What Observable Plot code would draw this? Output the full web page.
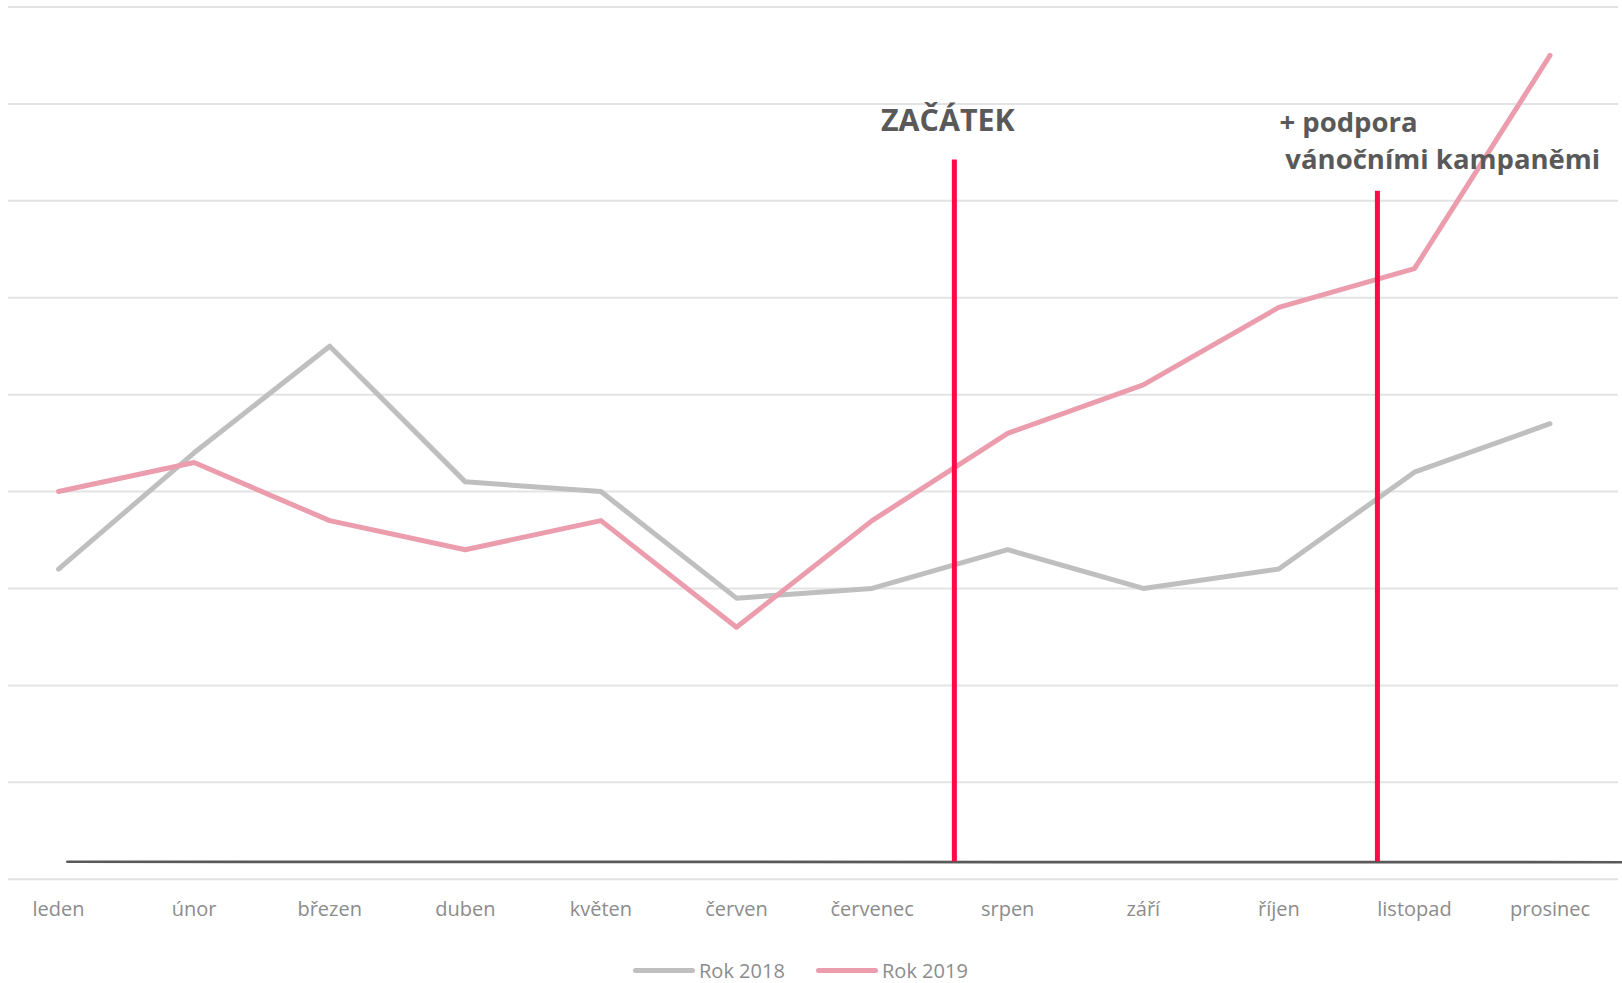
<!DOCTYPE html>
<html>
<head>
<meta charset="utf-8">
<script src="https://cdn.jsdelivr.net/npm/d3@7"></script>
<script src="https://cdn.jsdelivr.net/npm/@observablehq/plot@0.6"></script>
<style>
  html, body { margin: 0; padding: 0; background: #fff; }
  #chart svg { display: block; }
  .legend { position: relative; height: 48px; font-family: "Open Sans", sans-serif; font-size: 20px; color: #8c8c8c; }
  .legend .item { position: absolute; top: 22px; display: flex; align-items: center; }
  .legend .sw { width: 62px; height: 5px; border-radius: 3px; margin-right: 4px; }
</style>
</head>
<body>
<div id="chart"></div>
<div class="legend" id="legend"></div>
<script>
const months = ["leden", "únor", "březen", "duben", "květen", "červen", "červenec", "srpen", "září", "říjen", "listopad", "prosinec"];
const rok2018 = [3.2, 4.4, 5.5, 4.1, 4.0, 2.9, 3.0, 3.4, 3.0, 3.2, 4.2, 4.7];
const rok2019 = [4.0, 4.3, 3.7, 3.4, 3.7, 2.6, 3.7, 4.6, 5.1, 5.9, 6.3, 8.5];
const seriesNames = ["Rok 2018", "Rok 2019"];
const seriesColors = ["#bfbfbf", "#eb9dae"];
const markerX = [6.607, 9.727];
const markerTop = [7.42, 7.1];
const markerBottom = 0.18;
const baseLineX = [0.065, 11.54];
const baseLineY = [0.18, 0.175];
const notes = [
  {x: 6.066, y: 7.82, text: "ZAČÁTEK", size: 30.4},
  {x: 9.004, y: 7.80, text: "+ podpora", size: 27.5},
  {x: 9.048, y: 7.417, text: "vánočními kampaněmi", size: 27.5}
];
const gridTicks = d3.range(0, 10);

const data = [];
months.forEach((m, i) => {
  data.push({i, month: m, value: rok2018[i], series: seriesNames[0]});
});
months.forEach((m, i) => {
  data.push({i, month: m, value: rok2019[i], series: seriesNames[1]});
});
const markers = markerX.map((x, k) => ({x, y1: markerBottom, y2: markerTop[k]}));
const baseLine = baseLineX.map((x, k) => ({x, y: baseLineY[k]}));

const chart = Plot.plot({
  width: 1622,
  height: 935,
  marginLeft: 8,
  marginRight: 4,
  marginTop: 6.5,
  marginBottom: 56.3,
  style: {fontFamily: "'Open Sans', sans-serif", fontSize: "20px", color: "#8c8c8c", background: "#fff"},
  x: {domain: [-0.369, 11.505], axis: null},
  y: {domain: [0, 9], axis: null},
  color: {domain: seriesNames, range: seriesColors},
  marks: [
    Plot.gridY(gridTicks, {stroke: "#e3e3e3", strokeOpacity: 1, strokeWidth: 2}),
    Plot.axisX(d3.range(months.length), {tickSize: 0, tickPadding: 23, tickFormat: i => months[i], fill: "#8c8c8c", fontSize: 20}),
    Plot.line(baseLine, {x: "x", y: "y", stroke: "#595959", strokeWidth: 2.7}),
    Plot.line(data, {x: "i", y: "value", stroke: "series", strokeWidth: 5, strokeLinejoin: "round", strokeLinecap: "round", curve: "linear"}),
    Plot.ruleX(markers, {x: "x", y1: "y1", y2: "y2", stroke: "#ff0a47", strokeWidth: 5}),
    Plot.text(notes, {x: "x", y: "y", text: "text", textAnchor: "start", fill: "#595959", fontWeight: "bold", fontSize: d => d.size})
  ]
});
document.getElementById("chart").appendChild(chart);

const legend = document.getElementById("legend");
const lefts = [633, 816];
seriesNames.forEach((name, k) => {
  const item = document.createElement("div");
  item.className = "item";
  item.style.left = lefts[k] + "px";
  const sw = document.createElement("span");
  sw.className = "sw";
  sw.style.background = seriesColors[k];
  const t = document.createElement("span");
  t.textContent = name;
  item.appendChild(sw);
  item.appendChild(t);
  legend.appendChild(item);
});
</script>
</body>
</html>
